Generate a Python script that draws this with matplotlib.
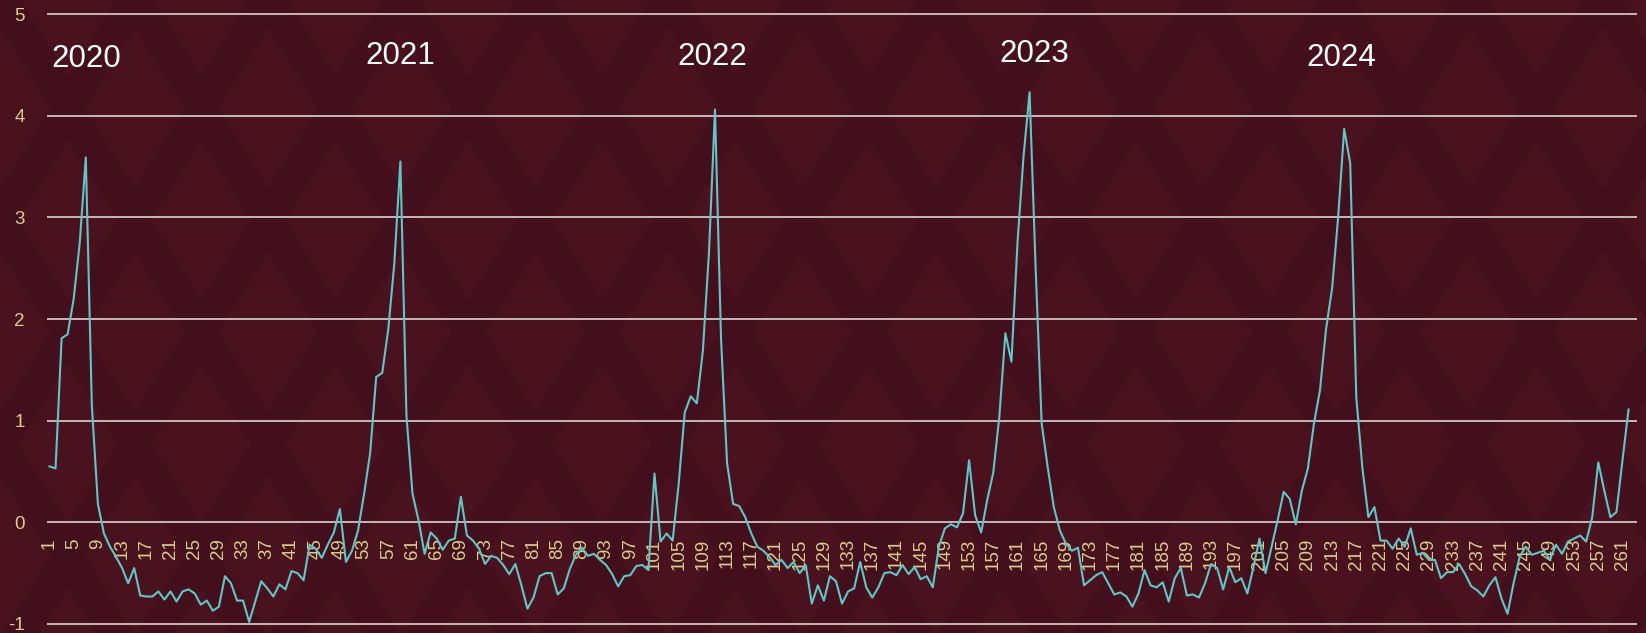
import matplotlib
matplotlib.use("Agg")
import matplotlib.pyplot as plt
import numpy as np

plt.rcParams['font.family'] = ['Liberation Sans', 'DejaVu Sans']

# weekly index values, 2020 - 2024
values = [
    0.55, 0.53, 1.81, 1.85, 2.2, 2.75, 3.59, 1.15, 0.18, -0.11,
    -0.24, -0.34, -0.45, -0.60, -0.45, -0.72, -0.73, -0.73, -0.68, -0.76,
    -0.68, -0.78, -0.68, -0.66, -0.70, -0.81, -0.77, -0.87, -0.83, -0.53,
    -0.60, -0.77, -0.77, -0.98, -0.78, -0.58, -0.65, -0.73, -0.61, -0.66,
    -0.48, -0.50, -0.57, -0.22, -0.26, -0.35, -0.22, -0.10, 0.13, -0.39,
    -0.28, -0.08, 0.28, 0.68, 1.43, 1.47, 1.90, 2.55, 3.55, 1.05,
    0.28, 0.02, -0.31, -0.10, -0.16, -0.27, -0.18, -0.16, 0.25, -0.13,
    -0.18, -0.26, -0.41, -0.33, -0.35, -0.42, -0.51, -0.41, -0.62, -0.85,
    -0.74, -0.53, -0.50, -0.50, -0.71, -0.65, -0.46, -0.32, -0.25, -0.33,
    -0.31, -0.37, -0.42, -0.51, -0.63, -0.53, -0.52, -0.43, -0.42, -0.47,
    0.48, -0.19, -0.11, -0.18, 0.38, 1.08, 1.24, 1.17, 1.69, 2.65,
    4.06, 1.80, 0.58, 0.18, 0.16, 0.05, -0.11, -0.24, -0.28, -0.34,
    -0.42, -0.37, -0.45, -0.39, -0.50, -0.42, -0.80, -0.62, -0.77, -0.53,
    -0.58, -0.80, -0.68, -0.65, -0.39, -0.64, -0.74, -0.64, -0.50, -0.49,
    -0.52, -0.42, -0.51, -0.44, -0.56, -0.53, -0.64, -0.24, -0.06, -0.02,
    -0.05, 0.09, 0.61, 0.07, -0.10, 0.22, 0.49, 1.04, 1.86, 1.58,
    2.75, 3.60, 4.23, 2.50, 0.97, 0.54, 0.15, -0.08, -0.21, -0.28,
    -0.25, -0.62, -0.57, -0.52, -0.49, -0.60, -0.71, -0.69, -0.73, -0.83,
    -0.70, -0.47, -0.62, -0.64, -0.59, -0.78, -0.55, -0.45, -0.72, -0.71,
    -0.74, -0.60, -0.41, -0.45, -0.66, -0.44, -0.59, -0.55, -0.70, -0.44,
    -0.16, -0.50, -0.24, 0.02, 0.30, 0.23, -0.02, 0.31, 0.53, 0.97,
    1.30, 1.90, 2.30, 3.00, 3.87, 3.53, 1.23, 0.54, 0.05, 0.15,
    -0.18, -0.18, -0.26, -0.16, -0.24, -0.06, -0.32, -0.30, -0.37, -0.37,
    -0.55, -0.49, -0.49, -0.41, -0.51, -0.63, -0.67, -0.73, -0.62, -0.54,
    -0.75, -0.90, -0.60, -0.34, -0.24, -0.32, -0.30, -0.28, -0.37, -0.22,
    -0.31, -0.19, -0.16, -0.13, -0.19, 0.05, 0.59, 0.31, 0.05, 0.10,
    0.61, 1.11,
]
weeks = list(range(1, len(values) + 1))
tick_weeks = weeks[::4]
y_ticks = [-1, 0, 1, 2, 3, 4, 5]
years = ['2020', '2021', '2022', '2023', '2024']

# where the year captions sit (week, value)
year_pos = [(7.0, 4.56), (59.0, 4.59), (110.5, 4.58), (163.7, 4.61), (214.5, 4.57)]

W, H = 1646, 633
LIGHT = np.array([74, 18, 31]) / 255
DARK = np.array([68, 15, 28]) / 255
TICK_COLOR = '#d9cd8c'
LINE_COLOR = '#62c5c6'
GRID_COLOR = '#dcd3d3'

# background diamond lattice
yy, xx = np.mgrid[0:H, 0:W] + 0.5
px, py, a, b = 133.5, 224.0, 50.0, 80.0


def diamond_dist(x0, y0):
    dx = (xx - x0 + px / 2) % px - px / 2
    dy = (yy - y0 + py / 2) % py - py / 2
    return np.abs(dx) / a + np.abs(dy) / b


d = np.minimum(diamond_dist(68, 220), diamond_dist(68 + px / 2, 220 + py / 2))
t = np.clip((1.0 - d) * 40 + 0.5, 0, 1)[..., None]
bg = DARK + (LIGHT - DARK) * t

fig = plt.figure(figsize=(W / 100, H / 100), dpi=100)
fig.patch.set_facecolor(LIGHT)
fig.figimage(bg, xo=0, yo=0, origin='upper', zorder=-1)

ax = fig.add_axes([47 / W, 6 / H, 1590 / W, 616 / H])
ax.set_facecolor('none')

# x labels hang from the zero line
for s in ['top', 'right', 'left']:
    ax.spines[s].set_visible(False)
ax.spines['bottom'].set_position(('data', 0))
ax.spines['bottom'].set_visible(False)

ax.plot(weeks, values, color=LINE_COLOR, linewidth=1.5, zorder=3)

ax.set_xlim(0.587, 263.4)
ax.set_ylim(-1.03, 5.03)
ax.set_yticks(y_ticks)
ax.set_yticklabels([str(v) for v in y_ticks])
ax.set_xticks(tick_weeks)
ax.set_xticklabels([str(w) for w in tick_weeks])

ax.grid(axis='y', color=GRID_COLOR, linewidth=1.2)
ax.grid(axis='x', visible=False)
ax.set_axisbelow(True)

ax.tick_params(axis='x', length=0, pad=11.5, labelsize=13.5, labelcolor=TICK_COLOR,
               labelrotation=90)
ax.tick_params(axis='y', length=0, pad=16, labelsize=13.5, labelcolor=TICK_COLOR)

for yr, (xw, yv) in zip(years, year_pos):
    ax.text(xw, yv, yr, color='white', fontsize=22.5, ha='center', va='center', zorder=4)

fig.savefig('out.png', dpi=100, facecolor=fig.get_facecolor())
